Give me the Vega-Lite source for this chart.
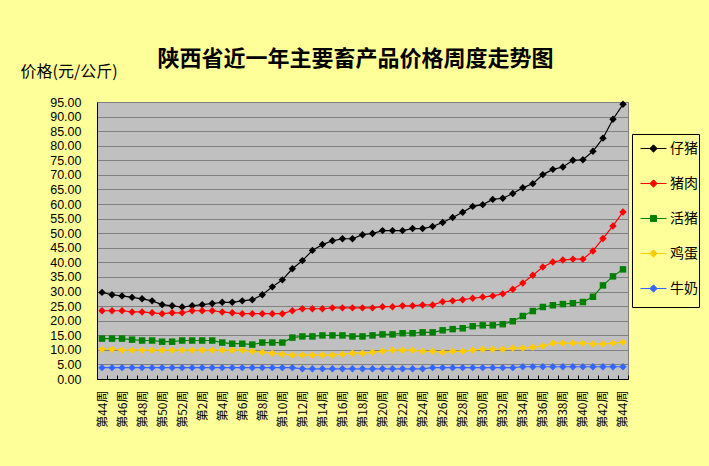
{
  "$schema": "https://vega.github.io/schema/vega-lite/v6.json",
  "autosize": {"type": "none"},
  "width": 531,
  "height": 277,
  "padding": {"left": 97, "top": 102, "right": 81, "bottom": 87},
  "background": "#FFFF99",
  "config": {
    "font": "Noto Sans CJK SC",
    "view": {"fill": "#C0C0C0", "stroke": "#808080", "strokeWidth": 1}
  },
  "title": {
    "text": "陕西省近一年主要畜产品价格周度走势图",
    "fontSize": 22,
    "fontWeight": "bold",
    "color": "black",
    "anchor": "middle",
    "frame": "group",
    "dx": -7,
    "dy": 8,
    "offset": 0
  },
  "data": {
    "values": [
      {"周次": "上年第44周", "仔猪": 29.7, "猪肉": 23.4, "活猪": 13.85, "鸡蛋": 10.2, "牛奶": 3.9},
      {"周次": "上年第45周", "仔猪": 28.9, "猪肉": 23.4, "活猪": 13.85, "鸡蛋": 10.2, "牛奶": 3.9},
      {"周次": "上年第46周", "仔猪": 28.5, "猪肉": 23.4, "活猪": 13.85, "鸡蛋": 9.9, "牛奶": 3.9},
      {"周次": "上年第47周", "仔猪": 28.0, "猪肉": 23.0, "活猪": 13.5, "鸡蛋": 9.9, "牛奶": 3.9},
      {"周次": "上年第48周", "仔猪": 27.5, "猪肉": 23.0, "活猪": 13.2, "鸡蛋": 9.9, "牛奶": 3.9},
      {"周次": "上年第49周", "仔猪": 26.8, "猪肉": 22.7, "活猪": 13.2, "鸡蛋": 9.9, "牛奶": 3.9},
      {"周次": "上年第50周", "仔猪": 25.5, "猪肉": 22.4, "活猪": 12.8, "鸡蛋": 9.9, "牛奶": 3.9},
      {"周次": "上年第51周", "仔猪": 25.1, "猪肉": 22.7, "活猪": 12.8, "鸡蛋": 9.9, "牛奶": 3.9},
      {"周次": "上年第52周", "仔猪": 24.7, "猪肉": 22.7, "活猪": 13.2, "鸡蛋": 9.9, "牛奶": 3.9},
      {"周次": "第1周", "仔猪": 25.1, "猪肉": 23.4, "活猪": 13.2, "鸡蛋": 9.9, "牛奶": 3.9},
      {"周次": "第2周", "仔猪": 25.5, "猪肉": 23.4, "活猪": 13.2, "鸡蛋": 9.9, "牛奶": 3.9},
      {"周次": "第3周", "仔猪": 25.9, "猪肉": 23.4, "活猪": 13.2, "鸡蛋": 9.9, "牛奶": 3.9},
      {"周次": "第4周", "仔猪": 26.3, "猪肉": 23.0, "活猪": 12.5, "鸡蛋": 9.9, "牛奶": 3.9},
      {"周次": "第5周", "仔猪": 26.3, "猪肉": 22.7, "活猪": 12.1, "鸡蛋": 9.9, "牛奶": 3.9},
      {"周次": "第6周", "仔猪": 26.8, "猪肉": 22.4, "活猪": 12.1, "鸡蛋": 9.9, "牛奶": 3.9},
      {"周次": "第7周", "仔猪": 27.2, "猪肉": 22.4, "活猪": 11.8, "鸡蛋": 9.5, "牛奶": 3.9},
      {"周次": "第8周", "仔猪": 28.9, "猪肉": 22.4, "活猪": 12.5, "鸡蛋": 9.2, "牛奶": 3.9},
      {"周次": "第9周", "仔猪": 31.6, "猪肉": 22.4, "活猪": 12.5, "鸡蛋": 8.85, "牛奶": 3.9},
      {"周次": "第10周", "仔猪": 34.0, "猪肉": 22.4, "活猪": 12.5, "鸡蛋": 8.5, "牛奶": 3.9},
      {"周次": "第11周", "仔猪": 37.8, "猪肉": 23.4, "活猪": 14.2, "鸡蛋": 8.2, "牛奶": 3.9},
      {"周次": "第12周", "仔猪": 40.6, "猪肉": 24.1, "活猪": 14.6, "鸡蛋": 8.2, "牛奶": 3.5},
      {"周次": "第13周", "仔猪": 44.1, "猪肉": 24.1, "活猪": 14.6, "鸡蛋": 8.2, "牛奶": 3.5},
      {"周次": "第14周", "仔猪": 46.1, "猪肉": 24.1, "活猪": 14.95, "鸡蛋": 8.2, "牛奶": 3.5},
      {"周次": "第15周", "仔猪": 47.4, "猪肉": 24.4, "活猪": 14.95, "鸡蛋": 8.2, "牛奶": 3.5},
      {"周次": "第16周", "仔猪": 48.1, "猪肉": 24.4, "活猪": 14.95, "鸡蛋": 8.5, "牛奶": 3.5},
      {"周次": "第17周", "仔猪": 48.1, "猪肉": 24.4, "活猪": 14.6, "鸡蛋": 8.85, "牛奶": 3.5},
      {"周次": "第18周", "仔猪": 49.5, "猪肉": 24.4, "活猪": 14.6, "鸡蛋": 8.85, "牛奶": 3.5},
      {"周次": "第19周", "仔猪": 49.9, "猪肉": 24.4, "活猪": 14.95, "鸡蛋": 9.2, "牛奶": 3.5},
      {"周次": "第20周", "仔猪": 50.9, "猪肉": 24.8, "活猪": 15.3, "鸡蛋": 9.5, "牛奶": 3.5},
      {"周次": "第21周", "仔猪": 50.9, "猪肉": 24.8, "活猪": 15.3, "鸡蛋": 9.9, "牛奶": 3.5},
      {"周次": "第22周", "仔猪": 50.9, "猪肉": 25.1, "活猪": 15.7, "鸡蛋": 9.9, "牛奶": 3.5},
      {"周次": "第23周", "仔猪": 51.6, "猪肉": 25.1, "活猪": 15.7, "鸡蛋": 9.9, "牛奶": 3.5},
      {"周次": "第24周", "仔猪": 51.6, "猪肉": 25.4, "活猪": 16.0, "鸡蛋": 9.5, "牛奶": 3.5},
      {"周次": "第25周", "仔猪": 52.3, "猪肉": 25.4, "活猪": 16.0, "鸡蛋": 9.5, "牛奶": 3.9},
      {"周次": "第26周", "仔猪": 53.7, "猪肉": 26.5, "活猪": 16.7, "鸡蛋": 9.2, "牛奶": 3.9},
      {"周次": "第27周", "仔猪": 55.4, "猪肉": 26.8, "活猪": 17.1, "鸡蛋": 9.5, "牛奶": 3.9},
      {"周次": "第28周", "仔猪": 57.2, "猪肉": 27.2, "活猪": 17.4, "鸡蛋": 9.5, "牛奶": 3.9},
      {"周次": "第29周", "仔猪": 59.2, "猪肉": 27.7, "活猪": 18.1, "鸡蛋": 9.9, "牛奶": 3.9},
      {"周次": "第30周", "仔猪": 59.8, "猪肉": 28.1, "活猪": 18.4, "鸡蛋": 10.2, "牛奶": 3.9},
      {"周次": "第31周", "仔猪": 61.6, "猪肉": 28.5, "活猪": 18.4, "鸡蛋": 10.2, "牛奶": 3.9},
      {"周次": "第32周", "仔猪": 62.0, "猪肉": 29.2, "活猪": 18.8, "鸡蛋": 10.2, "牛奶": 3.9},
      {"周次": "第33周", "仔猪": 63.6, "猪肉": 30.8, "活猪": 19.8, "鸡蛋": 10.6, "牛奶": 3.9},
      {"周次": "第34周", "仔猪": 65.6, "猪肉": 32.9, "活猪": 21.6, "鸡蛋": 10.6, "牛奶": 4.2},
      {"周次": "第35周", "仔猪": 67.0, "猪肉": 35.6, "活猪": 23.3, "鸡蛋": 10.9, "牛奶": 4.2},
      {"周次": "第36周", "仔猪": 70.1, "猪肉": 38.4, "活猪": 24.7, "鸡蛋": 11.3, "牛奶": 4.2},
      {"周次": "第37周", "仔猪": 71.9, "猪肉": 40.1, "活猪": 25.3, "鸡蛋": 12.3, "牛奶": 4.2},
      {"周次": "第38周", "仔猪": 72.7, "猪肉": 40.8, "活猪": 25.7, "鸡蛋": 12.3, "牛奶": 4.2},
      {"周次": "第39周", "仔猪": 75.0, "猪肉": 41.1, "活猪": 26.0, "鸡蛋": 12.3, "牛奶": 4.2},
      {"周次": "第40周", "仔猪": 75.2, "猪肉": 41.1, "活猪": 26.4, "鸡蛋": 12.3, "牛奶": 4.2},
      {"周次": "第41周", "仔猪": 78.1, "猪肉": 43.9, "活猪": 28.2, "鸡蛋": 12.0, "牛奶": 4.2},
      {"周次": "第42周", "仔猪": 82.6, "猪肉": 48.2, "活猪": 32.1, "鸡蛋": 12.0, "牛奶": 4.2},
      {"周次": "第43周", "仔猪": 89.1, "猪肉": 52.5, "活猪": 35.2, "鸡蛋": 12.3, "牛奶": 4.2},
      {"周次": "第44周", "仔猪": 94.2, "猪肉": 57.3, "活猪": 37.6, "鸡蛋": 12.6, "牛奶": 4.2}
    ]
  },
  "transform": [
    {"fold": ["仔猪", "猪肉", "活猪", "鸡蛋", "牛奶"], "as": ["品种", "价格"]}
  ],
  "encoding": {
    "x": {
      "field": "周次",
      "type": "ordinal",
      "sort": null,
      "scale": {"type": "band", "paddingInner": 0, "paddingOuter": 0},
      "axis": {
        "title": null,
        "labelAngle": -90,
        "labelFontSize": 12,
        "labelColor": "black",
        "labelOverlap": false,
        "labelBound": false,
        "labelExpr": "round(datum.index * 52) % 2 == 0 ? replace(datum.label, '上年', '') : ''",
        "tickBand": "extent",
        "tickSize": -4,
        "tickColor": "black",
        "labelPadding": 15,
        "domainColor": "black",
        "domainWidth": 1,
        "grid": false
      }
    },
    "y": {
      "field": "价格",
      "type": "quantitative",
      "scale": {"domain": [0, 95], "nice": false},
      "axis": {
        "title": "价格(元/公斤)",
        "titleAngle": 0,
        "titleAlign": "left",
        "titleBaseline": "middle",
        "titleX": -77,
        "titleY": -31,
        "titleFontSize": 16,
        "titleFontWeight": "normal",
        "titleColor": "black",
        "values": [0, 5, 10, 15, 20, 25, 30, 35, 40, 45, 50, 55, 60, 65, 70, 75, 80, 85, 90, 95],
        "format": ".2f",
        "labelFont": "Liberation Sans",
        "labelFontSize": 12.5,
        "labelColor": "black",
        "labelPadding": 16,
        "ticks": false,
        "domainColor": "black",
        "domainWidth": 1,
        "grid": true,
        "gridColor": "#808080",
        "gridOpacity": 1,
        "gridWidth": 1
      }
    },
    "color": {
      "field": "品种",
      "type": "nominal",
      "scale": {
        "domain": ["仔猪", "猪肉", "活猪", "鸡蛋", "牛奶"],
        "range": ["#000000", "#FF0000", "#008000", "#FFCC00", "#3366FF"]
      },
      "legend": {
        "title": null,
        "orient": "none",
        "legendX": 535,
        "legendY": 32,
        "direction": "vertical",
        "strokeColor": "black",
        "fillColor": "#FFFF99",
        "padding": 1,
        "symbolOffset": 7,
        "symbolSize": 676,
        "symbolType": "M0,-1.17M0,1.17M-1,0H1M-0.28,0L0,-0.28L0.28,0L0,0.28Z",
        "symbolStrokeWidth": 1,
        "labelFontSize": 14,
        "labelColor": "black",
        "labelOffset": 3,
        "rowPadding": 0,
        "encode": {
          "symbols": {
            "update": {
              "shape": {"signal": "datum.value === '活猪' ? 'M0,-1.17M0,1.17M-1,0H1M-0.23,-0.23H0.23V0.23H-0.23Z' : 'M0,-1.17M0,1.17M-1,0H1M-0.28,0L0,-0.28L0.28,0L0,0.28Z'"},
              "fill": {"scale": "color", "field": "value"},
              "stroke": {"scale": "color", "field": "value"},
              "strokeWidth": {"value": 1},
              "opacity": {"value": 1},
              "fillOpacity": {"value": 1}
            }
          }
        }
      }
    }
  },
  "layer": [
    {"mark": {"type": "line", "strokeWidth": 1.2}},
    {
      "transform": [{"filter": "datum['品种'] !== '活猪'"}],
      "mark": {"type": "point", "filled": true, "opacity": 1, "size": 55, "shape": "diamond"}
    },
    {
      "transform": [{"filter": "datum['品种'] === '活猪'"}],
      "mark": {"type": "point", "filled": true, "opacity": 1, "size": 42, "shape": "square"}
    }
  ]
}
